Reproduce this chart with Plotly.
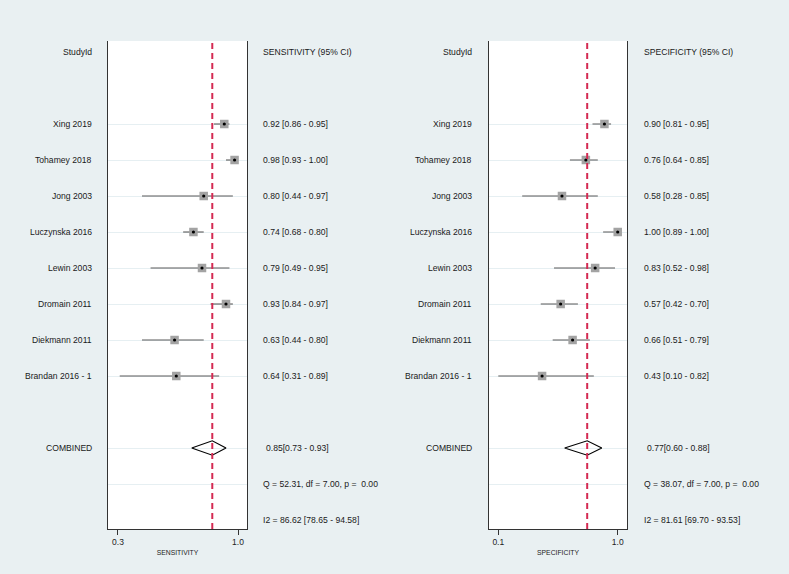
import plotly.graph_objects as go

# ---------------- data ----------------
studies = ["Xing 2019", "Tohamey 2018", "Jong 2003", "Luczynska 2016",
           "Lewin 2003", "Dromain 2011", "Diekmann 2011", "Brandan 2016 - 1"]

sens = [0.92, 0.98, 0.80, 0.74, 0.79, 0.93, 0.63, 0.64]
sens_lo = [0.86, 0.93, 0.44, 0.68, 0.49, 0.84, 0.44, 0.31]
sens_hi = [0.95, 1.00, 0.97, 0.80, 0.95, 0.97, 0.80, 0.89]

spec = [0.90, 0.76, 0.58, 1.00, 0.83, 0.57, 0.66, 0.43]
spec_lo = [0.81, 0.64, 0.28, 0.89, 0.52, 0.42, 0.51, 0.10]
spec_hi = [0.95, 0.85, 0.85, 1.00, 0.98, 0.70, 0.79, 0.82]

sens_comb = [0.85, 0.73, 0.93]
spec_comb = [0.77, 0.60, 0.88]

sens_stats = ["Q = 52.31, df = 7.00, p =  0.00", "I2 = 86.62 [78.65 - 94.58]"]
spec_stats = ["Q = 38.07, df = 7.00, p =  0.00", "I2 = 81.61 [69.70 - 93.53]"]

sens_ticks = [0.3, 1.0]
spec_ticks = [0.1, 1.0]
# --------------------------------------

W, H = 789, 574
FONT = "Liberation Sans, Arial, Helvetica, sans-serif"
FS = 8.6
BG = "#e9f0f2"
RED = "#d42a52"

study_rows = list(range(2, 2 + len(studies)))
comb_row = study_rows[-1] + 2
q_row = comb_row + 1
i2_row = comb_row + 2

def px(x):
    return x / W

panels = [
    dict(est=sens, lo=sens_lo, hi=sens_hi, comb=sens_comb, stats=sens_stats,
         ticks=sens_ticks, rng=[0.2417, 1.0525], dom=[px(108), px(247)],
         title="SENSITIVITY", header="SENSITIVITY (95% CI)",
         lab_x=px(94), txt_x=px(261)),
    dict(est=spec, lo=spec_lo, hi=spec_hi, comb=spec_comb, stats=spec_stats,
         ticks=spec_ticks, rng=[0.0277, 1.0723], dom=[px(488.7), px(627.3)],
         title="SPECIFICITY", header="SPECIFICITY (95% CI)",
         lab_x=px(474), txt_x=px(642)),
]

fig = go.Figure()
annotations = []
shapes = []
ydom = [(H - 529) / H, (H - 41) / H]
yrange = [13.25, -0.306]

for i, p in enumerate(panels):
    xa = "x" if i == 0 else "x2"
    ya = "y" if i == 0 else "y2"
    # CI lines + squares
    fig.add_trace(go.Scatter(
        x=p["est"], y=study_rows, mode="markers", xaxis=xa, yaxis=ya,
        marker=dict(symbol="square", size=8.5, color="#a3a3a3", line=dict(width=0)),
        error_x=dict(type="data", symmetric=False,
                     array=[h - e for h, e in zip(p["hi"], p["est"])],
                     arrayminus=[e - l for e, l in zip(p["est"], p["lo"])],
                     width=0, thickness=1.1, color="#5a5a5a"),
        showlegend=False, hoverinfo="skip"))
    fig.add_trace(go.Scatter(
        x=p["est"], y=study_rows, mode="markers", xaxis=xa, yaxis=ya,
        marker=dict(symbol="circle", size=3.2, color="black"),
        showlegend=False, hoverinfo="skip"))
    # diamond
    e, l, h = p["comb"]
    fig.add_trace(go.Scatter(
        x=[l, e, h, e, l], y=[comb_row, comb_row - 0.2, comb_row, comb_row + 0.2, comb_row],
        mode="lines", line=dict(color="black", width=1.2), xaxis=xa, yaxis=ya,
        showlegend=False, hoverinfo="skip"))
    # dashed reference line
    shapes.append(dict(type="line", xref=xa, yref=f"{ya} domain", x0=e, x1=e, y0=0, y1=1,
                       line=dict(color=RED, width=2, dash="6px,4px"), layer="above"))
    # texts
    annotations.append(dict(text="StudyId", xref="paper", yref=ya, x=p["lab_x"], y=0,
                            xanchor="right", yanchor="middle", showarrow=False))
    annotations.append(dict(text=p["header"], xref="paper", yref=ya, x=p["txt_x"], y=0,
                            xanchor="left", yanchor="middle", showarrow=False))
    for r, s, est_, lo_, hi_ in zip(study_rows, studies, p["est"], p["lo"], p["hi"]):
        annotations.append(dict(text=s, xref="paper", yref=ya, x=p["lab_x"], y=r,
                                xanchor="right", yanchor="middle", showarrow=False))
        annotations.append(dict(text=f"{est_:.2f} [{lo_:.2f} - {hi_:.2f}]", xref="paper", yref=ya,
                                x=p["txt_x"], y=r, xanchor="left", yanchor="middle", showarrow=False))
    annotations.append(dict(text="COMBINED", xref="paper", yref=ya, x=p["lab_x"], y=comb_row,
                            xanchor="right", yanchor="middle", showarrow=False))
    annotations.append(dict(text=f"{e:.2f}[{l:.2f} - {h:.2f}]", xref="paper", yref=ya,
                            x=p["txt_x"] + px(3), y=comb_row, xanchor="left", yanchor="middle",
                            showarrow=False))
    for r, s in zip([q_row, i2_row], p["stats"]):
        annotations.append(dict(text=s, xref="paper", yref=ya, x=p["txt_x"], y=r,
                                xanchor="left", yanchor="middle", showarrow=False))

    axis_x = dict(domain=p["dom"], range=p["rng"], tickvals=p["ticks"],
                  ticktext=[f"{t:.1f}" for t in p["ticks"]],
                  ticks="outside", ticklen=5, tickwidth=1, tickcolor="#333",
                  showline=True, linecolor="#333", linewidth=1.2, mirror=False,
                  showgrid=False, zeroline=False, automargin=False,
                  tickfont=dict(size=8.5, color="#222", family=FONT),
                  title=dict(text=p["title"], font=dict(size=6.8, color="#222", family=FONT),
                             standoff=3),
                  anchor=ya, fixedrange=True)
    axis_y = dict(domain=ydom, range=yrange, tickvals=study_rows + [comb_row, q_row],
                  showticklabels=False, ticks="", showgrid=True, gridcolor="#e6eff2",
                  gridwidth=1, zeroline=False, showline=True, mirror=True,
                  linecolor="#333", linewidth=1.2, automargin=False, anchor=xa,
                  fixedrange=True)
    if i == 0:
        fig.update_layout(xaxis=axis_x, yaxis=axis_y)
    else:
        fig.update_layout(xaxis2=axis_x, yaxis2=axis_y)

fig.update_layout(
    width=W, height=H, margin=dict(l=0, r=0, t=0, b=0),
    paper_bgcolor=BG, plot_bgcolor="white",
    font=dict(family=FONT, size=FS, color="#1a1a1a"),
    annotations=annotations, shapes=shapes, showlegend=False,
)

fig.write_html(
    "out.html",
    config={"displayModeBar": False},
    post_script="document.body.style.margin='0';document.body.style.overflow='hidden';"
                "document.body.style.background='" + BG + "';",
)
